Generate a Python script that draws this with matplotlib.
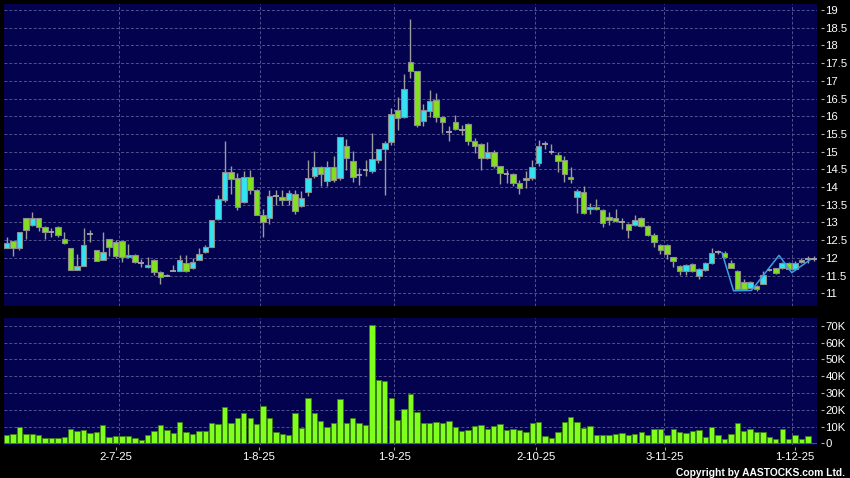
import matplotlib
matplotlib.use('Agg')
import matplotlib.pyplot as plt
import numpy as np

# ---------------- data ----------------
opens = [12.28, 12.49, 12.27, 13.13, 12.92, 13.13, 12.87, 12.74, 12.88, 12.54,
         12.29, 11.67, 11.77, 12.67, 12.23, 11.95, 12.54, 12.46, 12.47, 12.02,
         12.09, 11.86, 11.75, 11.95, 11.60, 11.50, 11.64, 11.64, 11.85, 11.70,
         11.95, 12.16, 12.32, 13.10, 13.63, 14.43, 14.26, 13.58, 14.28, 13.92,
         13.21, 13.13, 13.76, 13.71, 13.63, 13.81, 13.46, 13.85, 14.31, 14.57,
         14.17, 14.57, 14.26, 15.15, 14.73, 14.33, 14.47, 14.45, 14.75, 15.08,
         15.26, 16.18, 15.97, 17.53, 17.28, 15.87, 16.16, 16.46, 15.98, 15.55,
         15.84, 15.62, 15.78, 15.29, 15.22, 14.81, 15.00, 14.59, 14.37, 14.37,
         14.12, 14.21, 14.26, 14.68, 15.22, 15.00, 14.91, 14.75, 14.29, 13.72,
         13.86, 13.39, 13.44, 13.35, 13.15, 13.12, 13.02, 12.96, 12.92, 13.13,
         12.90, 12.65, 12.36, 12.36, 12.01, 11.78, 11.63, 11.84, 11.49, 11.66,
         11.85, 12.16, 12.15, 11.86, 11.63, 11.33, 11.16, 11.21, 11.27, 11.66,
         11.70, 11.70, 11.86, 11.68, 11.88, 11.96, 11.98]
highs = [12.58, 12.49, 12.74, 13.13, 13.29, 13.13, 12.90, 12.83, 12.90, 12.74,
         12.29, 12.10, 12.85, 12.80, 12.23, 12.74, 12.54, 12.50, 12.47, 12.38,
         12.10, 11.98, 12.02, 11.98, 11.62, 11.53, 11.79, 12.07, 12.09, 12.00,
         12.29, 12.35, 13.08, 13.77, 15.31, 14.59, 14.40, 14.45, 14.49, 13.95,
         13.37, 13.93, 13.93, 13.93, 13.93, 13.93, 13.90, 14.77, 15.03, 14.59,
         14.73, 14.89, 15.41, 15.36, 15.03, 14.54, 14.75, 15.52, 15.08, 15.30,
         16.23, 16.53, 17.19, 18.74, 17.28, 16.34, 16.75, 16.65, 16.00, 15.71,
         16.04, 15.75, 15.82, 15.39, 15.24, 15.26, 15.06, 14.60, 14.49, 14.39,
         14.20, 14.45, 14.77, 15.34, 15.31, 15.22, 15.00, 14.87, 14.57, 13.95,
         14.04, 13.55, 13.67, 13.37, 13.29, 13.39, 13.13, 12.98, 13.20, 13.15,
         12.92, 12.70, 12.38, 12.38, 12.03, 11.80, 11.82, 11.86, 11.70, 11.87,
         12.29, 12.22, 12.20, 11.95, 11.65, 11.40, 11.35, 11.23, 11.62, 11.68,
         11.72, 11.88, 11.88, 11.90, 12.00, 12.05, 12.05]
lows = [12.28, 12.05, 12.22, 12.52, 12.90, 12.75, 12.52, 12.60, 12.60, 12.40,
        11.67, 11.67, 11.77, 12.45, 11.90, 11.93, 12.05, 12.00, 11.88, 12.00,
        11.85, 11.75, 11.72, 11.51, 11.27, 11.48, 11.62, 11.62, 11.60, 11.68,
        11.93, 12.14, 12.30, 13.08, 13.57, 13.79, 13.34, 13.55, 13.79, 13.20,
        12.60, 12.96, 13.48, 13.50, 13.48, 13.23, 13.44, 13.76, 14.26, 14.04,
        14.02, 14.15, 14.20, 14.49, 14.14, 14.07, 14.30, 14.40, 14.68, 13.77,
        15.20, 15.62, 15.95, 17.08, 15.70, 15.71, 15.98, 15.84, 15.54, 15.29,
        15.60, 15.46, 15.20, 14.96, 14.49, 14.78, 14.55, 14.10, 14.12, 14.02,
        13.79, 13.98, 14.20, 14.60, 15.08, 14.92, 14.43, 14.14, 14.12, 13.27,
        13.25, 13.23, 13.35, 12.88, 12.94, 13.00, 12.82, 12.55, 12.90, 12.88,
        12.62, 12.32, 12.10, 11.98, 11.74, 11.51, 11.51, 11.61, 11.39, 11.64,
        11.83, 12.12, 11.99, 11.70, 11.11, 11.11, 11.14, 11.06, 11.25, 11.64,
        11.54, 11.68, 11.66, 11.66, 11.86, 11.86, 11.90]
closes = [12.43, 12.29, 12.74, 12.78, 13.13, 12.88, 12.74, 12.74, 12.64, 12.42,
          11.67, 11.78, 12.37, 12.67, 11.92, 12.17, 12.32, 12.05, 12.02, 12.08,
          11.88, 11.86, 11.81, 11.61, 11.45, 11.50, 11.64, 11.94, 11.62, 11.88,
          12.11, 12.32, 13.08, 13.65, 14.43, 14.23, 13.44, 14.28, 13.92, 13.22,
          13.02, 13.74, 13.76, 13.63, 13.84, 13.32, 13.70, 14.26, 14.57, 14.36,
          14.57, 14.20, 15.41, 14.81, 14.29, 14.33, 14.47, 14.79, 15.08, 15.25,
          16.06, 15.95, 16.77, 17.28, 15.74, 16.18, 16.44, 15.98, 15.84, 15.55,
          15.64, 15.62, 15.29, 15.15, 14.81, 14.98, 14.59, 14.40, 14.37, 14.12,
          13.98, 14.26, 14.57, 15.17, 15.22, 15.00, 14.73, 14.37, 14.23, 13.90,
          13.27, 13.44, 13.37, 12.99, 13.06, 13.04, 13.02, 12.78, 13.06, 12.90,
          12.64, 12.45, 12.22, 12.12, 11.91, 11.63, 11.80, 11.63, 11.68, 11.85,
          12.15, 12.16, 12.01, 11.72, 11.11, 11.13, 11.33, 11.13, 11.52, 11.66,
          11.56, 11.86, 11.68, 11.86, 11.94, 11.96, 11.98]
volume_k = [5.0, 5.4, 9.9, 5.4, 5.4, 4.8, 3.4, 3.0, 3.0, 3.6,
            8.3, 7.3, 7.7, 6.0, 6.9, 10.7, 3.8, 4.6, 4.4, 4.4,
            3.2, 2.0, 4.8, 7.3, 10.7, 8.1, 6.2, 12.9, 6.9, 5.4,
            7.5, 7.5, 12.1, 11.5, 21.8, 11.9, 14.9, 18.1, 15.1, 11.5,
            22.4, 14.9, 6.9, 5.6, 5.0, 17.9, 9.3, 26.8, 17.9, 13.3,
            9.5, 12.3, 26.2, 11.9, 15.3, 12.3, 10.9, 70.4, 37.7, 37.3,
            26.8, 13.9, 20.2, 29.2, 18.5, 12.3, 11.9, 12.7, 12.3, 13.3,
            9.5, 7.3, 7.9, 10.1, 10.9, 8.5, 10.3, 11.3, 7.9, 8.7,
            7.7, 6.7, 12.3, 12.5, 4.4, 3.4, 6.5, 12.9, 15.9, 12.9,
            9.1, 10.1, 5.0, 4.8, 5.0, 5.6, 6.0, 5.0, 5.4, 6.9,
            5.0, 8.3, 8.3, 5.0, 8.3, 6.5, 6.0, 7.3, 7.9, 4.0,
            9.9, 5.0, 2.8, 5.4, 11.9, 7.5, 8.3, 6.7, 6.7, 4.0,
            2.6, 8.5, 2.6, 4.8, 2.6, 4.4, 0.4]

# drawn pattern line (candle index, price)
pattern_x = [111.6, 113.4, 116.2, 120.5, 122.5, 125.3]
pattern_y = [12.15, 11.07, 11.08, 12.07, 11.58, 11.94]

# month boundaries and date labels
month_grid = [17.5, 39.5, 60.5, 82.5, 102.5, 122.5]
date_pos = [17.1, 39.3, 60.5, 82.6, 102.7, 123.0]
date_labels = ['2-7-25', '1-8-25', '1-9-25', '2-10-25', '3-11-25', '1-12-25']

price_ticks = [11, 11.5, 12, 12.5, 13, 13.5, 14, 14.5, 15, 15.5, 16, 16.5, 17, 17.5, 18, 18.5, 19]
price_labels = ['11', '11.5', '12', '12.5', '13', '13.5', '14', '14.5', '15', '15.5',
                '16', '16.5', '17', '17.5', '18', '18.5', '19']
vol_ticks = [0, 10, 20, 30, 40, 50, 60, 70]
vol_labels = ['0', '10K', '20K', '30K', '40K', '50K', '60K', '70K']

# ---------------- style ----------------
plt.rcParams['font.family'] = ['Liberation Sans', 'DejaVu Sans']
NAVY = '#02024e'
GRID = '#52528e'
CYAN = '#33e3f2'
GREEN = '#82e01e'
VGREEN = '#80ff1e'
EDGE = '#8c8c8c'
WICK = '#9c9c9c'

W, H = 850, 478
fig = plt.figure(figsize=(W / 100, H / 100), dpi=100, facecolor='black')


def rect(l, t, r, b):
    return [l / W, 1 - b / H, (r - l) / W, (b - t) / H]


axp = fig.add_axes(rect(4, 4, 816.7, 306))
axv = fig.add_axes(rect(4, 318, 816.7, 445))

O = np.array(opens); Hh = np.array(highs); L = np.array(lows); C = np.array(closes)
x = np.arange(len(O))
V = np.array(volume_k)

for ax in (axp, axv):
    ax.set_facecolor(NAVY)
    for s in ('top', 'left', 'bottom', 'right'):
        ax.spines[s].set_visible(False)
    ax.spines['right'].set_position(('outward', 2.9))
    ax.set_xlim(-0.41, 126.38)
    ax.set_axisbelow(True)
    ax.yaxis.tick_right()
    ax.tick_params(axis='y', colors='#b0b0b0', labelcolor='white', length=2.2,
                   width=0.8, pad=1.1, labelsize=8.2)
    for g in month_grid:
        ax.axvline(g, color=GRID, lw=0.7, ls=(0, (3, 2)), zorder=0.5)
    ax.grid(axis='y', color=GRID, lw=0.7, ls=(0, (3, 2)))

# price panel
axp.set_ylim(10.64, 19.17)
axp.set_yticks(price_ticks)
axp.set_yticklabels(price_labels)
axp.set_xticks([])

axp.vlines(x, L, Hh, color=WICK, lw=1.0, zorder=2)
up = C > O
dn = C < O
fl = C == O
axp.bar(x[up], (C - O)[up], bottom=O[up], width=0.86, color=CYAN,
        edgecolor=EDGE, linewidth=0.8, zorder=3)
axp.bar(x[dn], (O - C)[dn], bottom=C[dn], width=0.86, color=GREEN,
        edgecolor=EDGE, linewidth=0.8, zorder=3)
axp.hlines(O[fl], x[fl] - 0.45, x[fl] + 0.45, color='#a8a8a8', lw=1.3, zorder=3)

axp.plot(pattern_x, pattern_y, color='#3d9de3', lw=1.1, zorder=4)

# volume panel
axv.set_ylim(-1.0, 74.6)
axv.set_yticks(vol_ticks)
axv.set_yticklabels(vol_labels)
axv.bar(x, V, width=0.84, color=VGREEN, edgecolor='#3b7d12', linewidth=0.6, zorder=3)

axv.spines['bottom'].set_position(('outward', 1.2))
axv.set_xticks(date_pos)
axv.set_xticklabels(date_labels)
axv.tick_params(axis='x', colors='#a0a0a0', labelcolor='white', length=1.9,
                width=0.8, pad=2.0, labelsize=8.2)

fig.text(845 / W, (H - 472.5) / H, 'Copyright by AASTOCKS.com Ltd.', ha='right',
         va='center', color='white', fontsize=7.4, fontweight='bold')

fig.savefig('out.png', dpi=100, facecolor='black')
